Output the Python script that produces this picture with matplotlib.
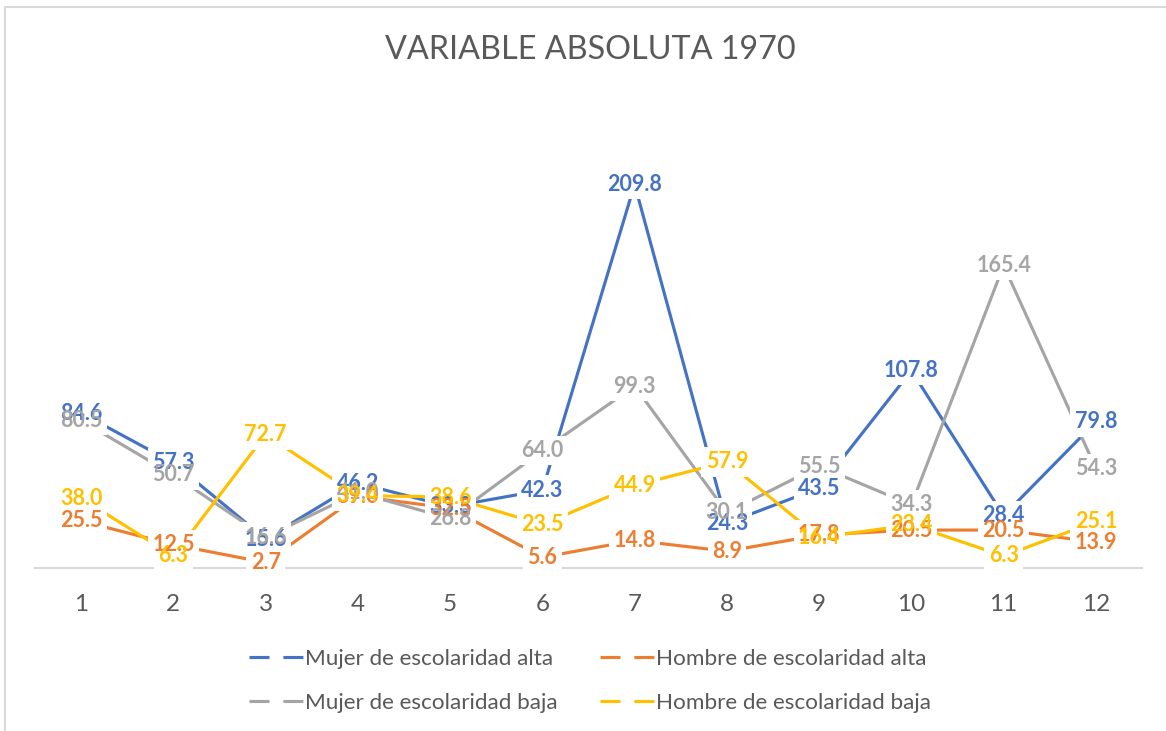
import matplotlib
matplotlib.use("Agg")
import matplotlib.pyplot as plt
from matplotlib.lines import Line2D
from matplotlib.patches import Rectangle

categories = [1, 2, 3, 4, 5, 6, 7, 8, 9, 10, 11, 12]
mujer_alta = [84.6, 57.3, 15.6, 46.2, 33.3, 42.3, 209.8, 24.3, 43.5, 107.8, 28.4, 79.8]
hombre_alta = [25.5, 12.5, 2.7, 39.0, 32.5, 5.6, 14.8, 8.9, 17.8, 20.5, 20.5, 13.9]
mujer_baja = [80.5, 50.7, 16.6, 41.0, 26.8, 64.0, 99.3, 30.1, 55.5, 34.3, 165.4, 54.3]
hombre_baja = [38.0, 6.3, 72.7, 39.4, 38.6, 23.5, 44.9, 57.9, 16.4, 23.4, 6.3, 25.1]

series_names = ["Mujer de escolaridad alta", "Hombre de escolaridad alta",
                "Mujer de escolaridad baja", "Hombre de escolaridad baja"]
series_values = [mujer_alta, hombre_alta, mujer_baja, hombre_baja]
colors = ["#4472C4", "#ED7D31", "#A5A5A5", "#FFC000"]

plt.rcParams['font.family'] = ['Lato', 'DejaVu Sans']
plt.rcParams['lines.scale_dashes'] = False

W, H = 1166, 731
fig = plt.figure(figsize=(W / 100, H / 100), dpi=100)

# chart border
fig.patches.append(Rectangle((5 / W, -0.1), 1.2, 1 - 7 / H + 0.1, transform=fig.transFigure,
                             fill=False, edgecolor="#D9D9D9", linewidth=1.5))

ax_left, ax_right = 35 / W, 1142 / W
ax_bottom = (H - 567.5) / H
ax_height = 456.5 / H
ax = fig.add_axes([ax_left, ax_bottom, ax_right - ax_left, ax_height])
ax.set_xlim(0.5, 12.5)
ax.set_ylim(0, 250)
for s in ["top", "right", "left"]:
    ax.spines[s].set_visible(False)
ax.spines["bottom"].set_color("#D9D9D9")
ax.spines["bottom"].set_linewidth(1.5)
ax.set_yticks([])
ax.set_xticks(categories)
ax.set_xticklabels([str(c) for c in categories])
ax.tick_params(axis="x", length=0, pad=19, labelsize=17.5, labelcolor="#595959")

z = 3
for name, vals, col in zip(series_names, series_values, colors):
    ax.plot(categories, vals, color=col, linewidth=2.25, solid_capstyle="butt", zorder=z, clip_on=False)
    z += 1

# label backgrounds first, then label texts (so overlapping labels stay readable)
for vals, col in zip(series_values, colors):
    for x, v in zip(categories, vals):
        ax.text(x, v, f"{v:.1f}", color=(1, 1, 1, 0), fontsize=15.5, fontweight="bold",
                ha="center", va="center", zorder=10,
                bbox=dict(boxstyle="square,pad=0.2", facecolor="white", edgecolor="none"))
for vals, col in zip(series_values, colors):
    for x, v in zip(categories, vals):
        ax.text(x, v, f"{v:.1f}", color=col, fontsize=15.5, fontweight="bold",
                ha="center", va="center", zorder=20)

fig.text(590 / W, 1 - 50 / H, "VARIABLE ABSOLUTA 1970", ha="center", va="center",
         fontsize=23.3, color="#595959")

order = [0, 2, 1, 3]
handles = [Line2D([0], [0], color=colors[i], linewidth=2.25, linestyle=(0, (14.4, 10))) for i in order]
labels = [series_names[i] for i in order]
leg = fig.legend(handles, labels, loc="center", bbox_to_anchor=(590 / W, 1 - 681 / H),
                 ncol=2, frameon=False, fontsize=16.2, handlelength=2.4, handletextpad=0.1,
                 columnspacing=1.9, labelspacing=1.05)
for t in leg.get_texts():
    t.set_color("#595959")

fig.savefig("out.png", dpi=100)
